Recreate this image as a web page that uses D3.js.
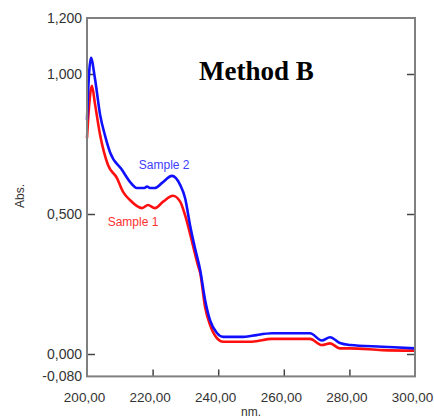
<!DOCTYPE html>
<html lang="en">
<head>
<meta charset="utf-8"/>
<title>Method B</title>
<style>
  * { margin: 0; padding: 0; }
  body { background: #fff; }
  svg { display: block; }
  text { font-family: "Liberation Sans", Arial, sans-serif; }
  .axis text { font-size: 14px; fill: #333; }
  .xaxis text { font-size: 13.5px; }
  .title { font-family: "Liberation Serif", "Times New Roman", serif; font-size: 27px; font-weight: bold; fill: #000; }
</style>
<script src="https://d3js.org/d3.v7.min.js"></script>
</head>
<body>
<svg id="chart" width="434" height="419"></svg>
<script>
// Sample 2 (blue) - wavelength (nm) and absorbance
const nm2 = [200.0, 200.6, 201.2, 202.4, 204.0, 205.5, 207.0, 210.7, 213.1, 215.2, 217.5, 218.3, 219.2, 220.7,
  222.9, 225.9, 228.4, 229.9, 231.4, 232.9, 234.5, 236.0, 237.5, 239.6, 241.5, 247.6, 250.3, 256.4, 268.0,
  271.6, 274.1, 277.1, 280.2, 290.0, 300.0];
const abs2 = [0.836, 0.996, 1.058, 0.986, 0.854, 0.780, 0.721, 0.657, 0.615, 0.593, 0.593, 0.598, 0.593, 0.593,
  0.611, 0.636, 0.604, 0.557, 0.461, 0.379, 0.300, 0.193, 0.121, 0.075, 0.061, 0.061, 0.065, 0.074, 0.074,
  0.048, 0.060, 0.039, 0.032, 0.026, 0.020];

// Sample 1 (red)
const nm1 = [200.0, 200.6, 201.5, 202.4, 204.0, 206.4, 209.1, 211.0, 213.1, 216.8, 218.6, 220.7, 223.2, 226.2,
  228.4, 229.9, 232.0, 233.8, 234.5, 236.0, 237.5, 239.6, 241.5, 247.6, 250.3, 256.4, 268.0, 271.6, 274.1,
  277.1, 280.2, 290.0, 300.0];
const abs1 = [0.771, 0.880, 0.958, 0.896, 0.782, 0.675, 0.629, 0.579, 0.550, 0.521, 0.532, 0.521, 0.544, 0.565,
  0.544, 0.496, 0.402, 0.318, 0.290, 0.168, 0.104, 0.057, 0.044, 0.044, 0.044, 0.054, 0.054, 0.032, 0.038,
  0.020, 0.020, 0.014, 0.012];

const xTicks = [200, 220, 240, 260, 280, 300];
const yLabels = [1.2, 1.0, 0.5, 0.0, -0.08];
const yMarks = [1.0, 0.5, 0.0];

const svg = d3.select("#chart");
const plotL = 87, plotR = 415, plotT = 18, plotB = 376.4;

const x = d3.scaleLinear().domain([200, 300]).range([plotL, plotR]);
const y = d3.scaleLinear().domain([-0.08, 1.2]).range([plotB, plotT]);

const loc = d3.formatLocale({decimal: ",", thousands: ".", grouping: [3], currency: ["", ""], minus: "-"});
const fy = loc.format(".3f");
const fx = loc.format(".2f");

// y labels
svg.append("g").attr("class", "axis")
  .attr("transform", `translate(${plotL},0)`)
  .call(d3.axisLeft(y).tickValues(yLabels).tickSize(0).tickPadding(5).tickFormat(fy))
  .call(g => g.select(".domain").remove());

// x labels
svg.append("g").attr("class", "axis xaxis")
  .attr("transform", `translate(0,${plotB})`)
  .call(d3.axisBottom(x).tickValues(xTicks).tickSize(0).tickPadding(16).tickFormat(fx))
  .call(g => g.select(".domain").remove())
  .call(g => g.selectAll(".tick text").attr("dx", -3));

// inward tick marks
const tickStyle = g => {
  g.select(".domain").remove();
  g.selectAll(".tick line").attr("stroke", "#444").attr("stroke-width", 1.5);
};
svg.append("g").attr("transform", `translate(${plotL},0)`)
  .call(d3.axisRight(y).tickValues(yMarks).tickSize(8).tickFormat(""))
  .call(tickStyle);
svg.append("g").attr("transform", `translate(${plotR},0)`)
  .call(d3.axisLeft(y).tickValues(yMarks).tickSize(8).tickFormat(""))
  .call(tickStyle);
svg.append("g").attr("transform", `translate(0,${plotB})`)
  .call(d3.axisTop(x).tickValues([220, 240, 260, 280]).tickSize(7).tickFormat(""))
  .call(tickStyle);

// curves
const line = d3.line().curve(d3.curveMonotoneX)
  .x(d => x(d[0])).y(d => y(d[1]));

svg.append("path")
  .attr("d", line(d3.zip(nm1, abs1)))
  .attr("fill", "none").attr("stroke", "#ff1010").attr("stroke-width", 2.6);
svg.append("path")
  .attr("d", line(d3.zip(nm2, abs2)))
  .attr("fill", "none").attr("stroke", "#1010ff").attr("stroke-width", 2.6);

// frame
svg.append("rect")
  .attr("x", plotL).attr("y", plotT)
  .attr("width", plotR - plotL).attr("height", plotB - plotT)
  .attr("fill", "none").attr("stroke", "#808080").attr("stroke-width", 2);

// series labels
svg.append("text").attr("x", x(215.8)).attr("y", y(0.66))
  .attr("font-size", 12).attr("fill", "#4040ff").text("Sample 2");
svg.append("text").attr("x", x(206.3)).attr("y", y(0.457))
  .attr("font-size", 12).attr("fill", "#ff3030").text("Sample 1");

// title
svg.append("text").attr("class", "title")
  .attr("x", 199).attr("y", 80).text("Method B");

// axis titles
svg.append("text").attr("font-size", 12).attr("fill", "#333")
  .attr("text-anchor", "middle")
  .attr("transform", "translate(24,196) rotate(-90)")
  .text("Abs.");
svg.append("text").attr("font-size", 12).attr("fill", "#333")
  .attr("text-anchor", "middle")
  .attr("x", (plotL + plotR) / 2).attr("y", 416)
  .text("nm.")
</script>
</body>
</html>
